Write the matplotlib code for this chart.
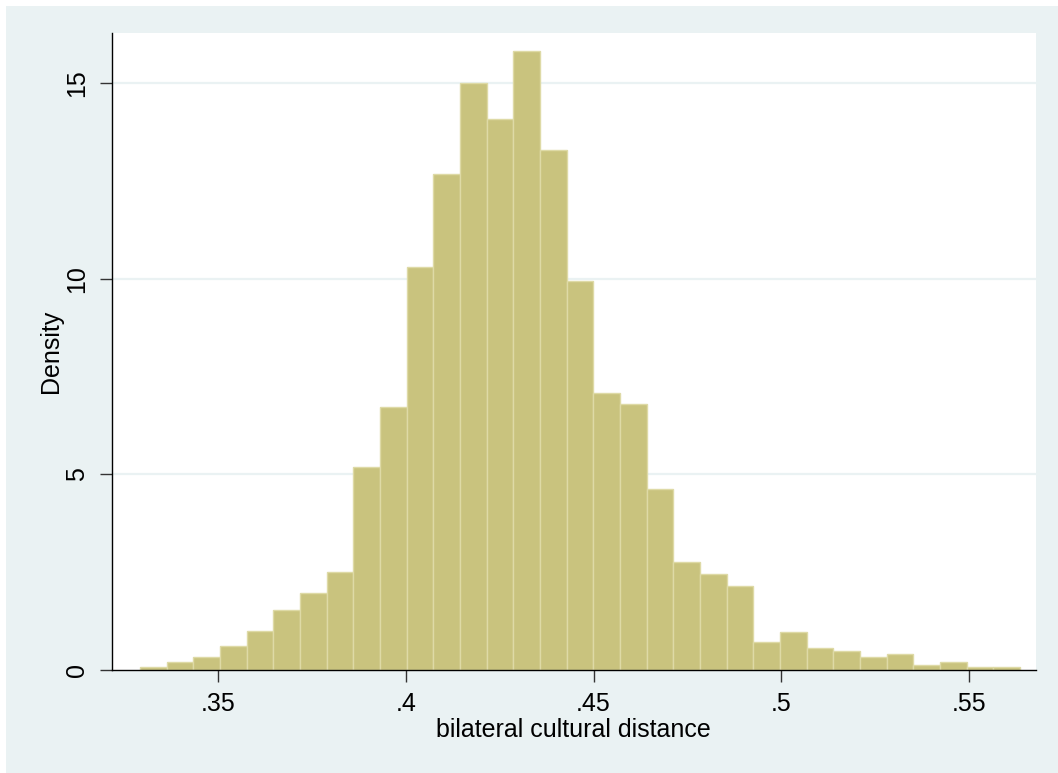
import numpy as np
import matplotlib
matplotlib.use("Agg")
import matplotlib.pyplot as plt
from matplotlib.patches import Rectangle

plt.rcParams['font.family'] = ['Liberation Sans', 'DejaVu Sans']

# histogram of bilateral cultural distance (density scale)
bin_start = 0.32922
bin_width = 0.007103
density = [0.07, 0.21, 0.34, 0.62, 0.99, 1.53, 1.96, 2.51, 5.18, 6.73,
           10.30, 12.68, 15.00, 14.09, 15.84, 13.30, 9.95, 7.07, 6.79, 4.62,
           2.77, 2.45, 2.16, 0.71, 0.98, 0.55, 0.49, 0.34, 0.40, 0.13,
           0.21, 0.07, 0.07]
x_ticks = [0.35, 0.40, 0.45, 0.50, 0.55]
x_tick_labels = ['.35', '.4', '.45', '.5', '.55']
y_ticks = [0, 5, 10, 15]

W, H = 1058, 773
fig = plt.figure(figsize=(W / 100, H / 100), dpi=100, facecolor='white')

# light bluish graph region (small white margin top/left only)
fig.patches.append(Rectangle((6 / W, -0.05), 1.1, 1.05 - 6 / H, transform=fig.transFigure,
                             facecolor='#EAF2F3', edgecolor='none', zorder=-1))

ax = fig.add_axes([111.7 / W, 1 - 670 / H, (1036 - 111.7) / W, (670 - 33.3) / H])
ax.set_facecolor('white')

lefts = bin_start + bin_width * np.arange(len(density))
ax.bar(lefts, density, width=bin_width, align='edge', color='#C9C37E',
       edgecolor='#DEDAA6', linewidth=1.0, zorder=3)

ax.set_xlim(0.32168, 0.56785)
ax.set_ylim(0, 16.28)

ax.set_xticks(x_ticks)
ax.set_xticklabels(x_tick_labels)
ax.set_yticks(y_ticks)
ax.set_yticklabels([str(v) for v in y_ticks])

# horizontal grid lines
for v in y_ticks[1:]:
    ax.axhline(v, color='#EAF2F3', linewidth=1.6, zorder=1)

for side in ['top', 'right']:
    ax.spines[side].set_visible(False)
for side in ['left', 'bottom']:
    ax.spines[side].set_color('black')
    ax.spines[side].set_linewidth(1.0)
    ax.spines[side].set_zorder(4)

ax.tick_params(axis='both', which='major', length=8.5, width=1.0, color='#333333',
               labelsize=18, labelcolor='black')
ax.tick_params(axis='x', pad=7)
ax.tick_params(axis='y', pad=8, labelrotation=90)
for lbl in ax.get_yticklabels():
    lbl.set_va('center')

ax.set_xlabel('bilateral cultural distance', fontsize=18)
ax.set_ylabel('Density', fontsize=18)
ax.xaxis.set_label_coords(0.5, -0.076)
ax.yaxis.set_label_coords(-0.053, 0.5)

fig.savefig('out.png', dpi=100, facecolor=fig.get_facecolor())
